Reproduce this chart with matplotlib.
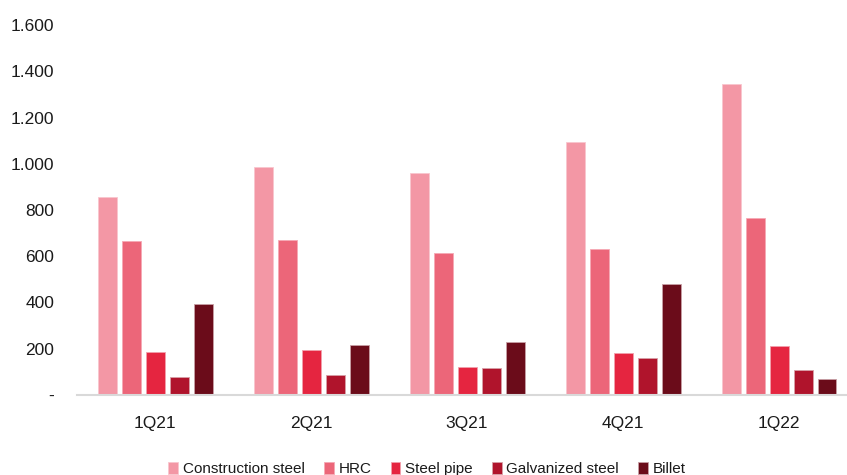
import matplotlib
matplotlib.use("Agg")
import matplotlib.pyplot as plt
import numpy as np
from matplotlib import font_manager

names = {f.name for f in font_manager.fontManager.ttflist}
fam = ['Liberation Sans Narrow', 'DejaVu Sans'] if 'Liberation Sans Narrow' in names else ['Liberation Sans', 'DejaVu Sans']
plt.rcParams['font.family'] = fam

categories = ["1Q21", "2Q21", "3Q21", "4Q21", "1Q22"]
series_names = ["Construction steel", "HRC", "Steel pipe", "Galvanized steel", "Billet"]
construction_steel = [857, 985, 960, 1094, 1343]
hrc = [668, 669, 615, 632, 765]
steel_pipe = [186, 193, 123, 182, 211]
galvanized_steel = [77, 85, 115, 159, 108]
billet = [394, 218, 228, 479, 71]
y_ticks = [0, 200, 400, 600, 800, 1000, 1200, 1400, 1600]
y_tick_labels = ["-", "200", "400", "600", "800", "1.000", "1.200", "1.400", "1.600"]

colors = ["#F397A5", "#EC6679", "#E52540", "#B0142C", "#6B0C1A"]
edges = ["#F9C6CE", "#F5A9B4", "#F2A0AC", "#D8A0A8", "#C8A0A6"]

fig = plt.figure(figsize=(8.47, 4.75), dpi=100)
ax = fig.add_axes([77/847, 80/475, 780/847, 370/475])

data = [construction_steel, hrc, steel_pipe, galvanized_steel, billet]
x = np.arange(len(categories))
slot = 24/156
width = 19/156
for i, (vals, name) in enumerate(zip(data, series_names)):
    ax.bar(x + (i - 2) * slot, vals, width=width, color=colors[i], label=name,
           edgecolor=edges[i], linewidth=0.6)

ax.set_xlim(-0.5, len(categories) - 0.5)
ax.set_ylim(0, 1600)
ax.set_yticks(y_ticks)
ax.set_yticklabels(y_tick_labels)
ax.set_xticks(x)
ax.set_xticklabels(categories)
ax.tick_params(axis='y', length=0, pad=16.5, labelsize=12.5, colors='#1a1a1a')
ax.tick_params(axis='x', length=0, pad=15, labelsize=12.5, colors='#1a1a1a')
for s in ['top', 'right', 'left']:
    ax.spines[s].set_visible(False)
ax.spines['bottom'].set_color('#D9D9D9')
ax.spines['bottom'].set_linewidth(1.5)

fig.legend(loc='center', bbox_to_anchor=(427/847, 1 - 469/475), ncol=5, frameon=False,
           fontsize=11, handlelength=0.65, handleheight=0.8, handletextpad=0.3,
           columnspacing=1.25, labelcolor='#1a1a1a')

fig.savefig("out.png", dpi=100)
